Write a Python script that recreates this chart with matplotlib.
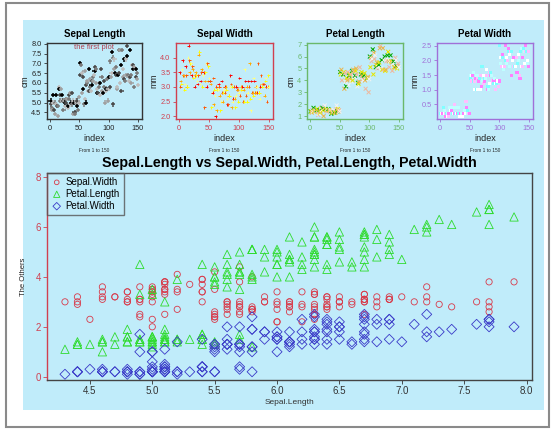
import matplotlib
matplotlib.use("Agg")
import matplotlib.pyplot as plt
from matplotlib.patches import Rectangle
import numpy as np

plt.rcParams['font.family'] = ['Liberation Sans', 'DejaVu Sans']

# iris data, one row per flower
sepal_length = [5.1, 4.9, 4.7, 4.6, 5.0, 5.4, 4.6, 5.0, 4.4, 4.9, 5.4, 4.8, 4.8, 4.3, 5.8, 5.7, 5.4, 5.1, 5.7, 5.1,
                5.4, 5.1, 4.6, 5.1, 4.8, 5.0, 5.0, 5.2, 5.2, 4.7, 4.8, 5.4, 5.2, 5.5, 4.9, 5.0, 5.5, 4.9, 4.4, 5.1,
                5.0, 4.5, 4.4, 5.0, 5.1, 4.8, 5.1, 4.6, 5.3, 5.0, 7.0, 6.4, 6.9, 5.5, 6.5, 5.7, 6.3, 4.9, 6.6, 5.2,
                5.0, 5.9, 6.0, 6.1, 5.6, 6.7, 5.6, 5.8, 6.2, 5.6, 5.9, 6.1, 6.3, 6.1, 6.4, 6.6, 6.8, 6.7, 6.0, 5.7,
                5.5, 5.5, 5.8, 6.0, 5.4, 6.0, 6.7, 6.3, 5.6, 5.5, 5.5, 6.1, 5.8, 5.0, 5.6, 5.7, 5.7, 6.2, 5.1, 5.7,
                6.3, 5.8, 7.1, 6.3, 6.5, 7.6, 4.9, 7.3, 6.7, 7.2, 6.5, 6.4, 6.8, 5.7, 5.8, 6.4, 6.5, 7.7, 7.7, 6.0,
                6.9, 5.6, 7.7, 6.3, 6.7, 7.2, 6.2, 6.1, 6.4, 7.2, 7.4, 7.9, 6.4, 6.3, 6.1, 7.7, 6.3, 6.4, 6.0, 6.9,
                6.7, 6.9, 5.8, 6.8, 6.7, 6.7, 6.3, 6.5, 6.2, 5.9]
sepal_width = [3.5, 3.0, 3.2, 3.1, 3.6, 3.9, 3.4, 3.4, 2.9, 3.1, 3.7, 3.4, 3.0, 3.0, 4.0, 4.4, 3.9, 3.5, 3.8, 3.8,
               3.4, 3.7, 3.6, 3.3, 3.4, 3.0, 3.4, 3.5, 3.4, 3.2, 3.1, 3.4, 4.1, 4.2, 3.1, 3.2, 3.5, 3.6, 3.0, 3.4,
               3.5, 2.3, 3.2, 3.5, 3.8, 3.0, 3.8, 3.2, 3.7, 3.3, 3.2, 3.2, 3.1, 2.3, 2.8, 2.8, 3.3, 2.4, 2.9, 2.7,
               2.0, 3.0, 2.2, 2.9, 2.9, 3.1, 3.0, 2.7, 2.2, 2.5, 3.2, 2.8, 2.5, 2.8, 2.9, 3.0, 2.8, 3.0, 2.9, 2.6,
               2.4, 2.4, 2.7, 2.7, 3.0, 3.4, 3.1, 2.3, 3.0, 2.5, 2.6, 3.0, 2.6, 2.3, 2.7, 3.0, 2.9, 2.9, 2.5, 2.8,
               3.3, 2.7, 3.0, 2.9, 3.0, 3.0, 2.5, 2.9, 2.5, 3.6, 3.2, 2.7, 3.0, 2.5, 2.8, 3.2, 3.0, 3.8, 2.6, 2.2,
               3.2, 2.8, 2.8, 2.7, 3.3, 3.2, 2.8, 3.0, 2.8, 3.0, 2.8, 3.8, 2.8, 2.8, 2.6, 3.0, 3.4, 3.1, 3.0, 3.1,
               3.1, 3.1, 2.7, 3.2, 3.3, 3.0, 2.5, 3.0, 3.4, 3.0]
petal_length = [1.4, 1.4, 1.3, 1.5, 1.4, 1.7, 1.4, 1.5, 1.4, 1.5, 1.5, 1.6, 1.4, 1.1, 1.2, 1.5, 1.3, 1.4, 1.7, 1.5,
                1.7, 1.5, 1.0, 1.7, 1.9, 1.6, 1.6, 1.5, 1.4, 1.6, 1.6, 1.5, 1.5, 1.4, 1.5, 1.2, 1.3, 1.4, 1.3, 1.5,
                1.3, 1.3, 1.3, 1.6, 1.9, 1.4, 1.6, 1.4, 1.5, 1.4, 4.7, 4.5, 4.9, 4.0, 4.6, 4.5, 4.7, 3.3, 4.6, 3.9,
                3.5, 4.2, 4.0, 4.7, 3.6, 4.4, 4.5, 4.1, 4.5, 3.9, 4.8, 4.0, 4.9, 4.7, 4.3, 4.4, 4.8, 5.0, 4.5, 3.5,
                3.8, 3.7, 3.9, 5.1, 4.5, 4.5, 4.7, 4.4, 4.1, 4.0, 4.4, 4.6, 4.0, 3.3, 4.2, 4.2, 4.2, 4.3, 3.0, 4.1,
                6.0, 5.1, 5.9, 5.6, 5.8, 6.6, 4.5, 6.3, 5.8, 6.1, 5.1, 5.3, 5.5, 5.0, 5.1, 5.3, 5.5, 6.7, 6.9, 5.0,
                5.7, 4.9, 6.7, 4.9, 5.7, 6.0, 4.8, 4.9, 5.6, 5.8, 6.1, 6.4, 5.6, 5.1, 5.6, 6.1, 5.6, 5.5, 4.8, 5.4,
                5.6, 5.1, 5.1, 5.9, 5.7, 5.2, 5.0, 5.2, 5.4, 5.1]
petal_width = [0.2, 0.2, 0.2, 0.2, 0.2, 0.4, 0.3, 0.2, 0.2, 0.1, 0.2, 0.2, 0.1, 0.1, 0.2, 0.4, 0.4, 0.3, 0.3, 0.3,
               0.2, 0.4, 0.2, 0.5, 0.2, 0.2, 0.4, 0.2, 0.2, 0.2, 0.2, 0.4, 0.1, 0.2, 0.2, 0.2, 0.2, 0.1, 0.2, 0.2,
               0.3, 0.3, 0.2, 0.6, 0.4, 0.3, 0.2, 0.2, 0.2, 0.2, 1.4, 1.5, 1.5, 1.3, 1.5, 1.3, 1.6, 1.0, 1.3, 1.4,
               1.0, 1.5, 1.0, 1.4, 1.3, 1.4, 1.5, 1.0, 1.5, 1.1, 1.8, 1.3, 1.5, 1.2, 1.3, 1.4, 1.4, 1.7, 1.5, 1.0,
               1.1, 1.0, 1.2, 1.6, 1.5, 1.6, 1.5, 1.3, 1.3, 1.3, 1.2, 1.4, 1.2, 1.0, 1.3, 1.2, 1.3, 1.3, 1.1, 1.3,
               2.5, 1.9, 2.1, 1.8, 2.2, 2.1, 1.7, 1.8, 1.8, 2.5, 2.0, 1.9, 2.1, 2.0, 2.4, 2.3, 1.8, 2.2, 2.3, 1.5,
               2.3, 2.0, 2.0, 1.8, 2.1, 1.8, 1.8, 1.8, 2.1, 1.6, 1.9, 2.0, 2.2, 1.5, 1.4, 2.3, 2.4, 1.8, 1.8, 2.1,
               2.4, 2.3, 1.9, 2.3, 2.5, 2.3, 1.9, 2.0, 2.3, 1.8]

small_titles = ["Sepal Length", "Sepal Width", "Petal Length", "Petal Width"]
small_units = ["cm", "mm", "cm", "mm"]
small_yticks = [[4.5, 5.0, 5.5, 6.0, 6.5, 7.0, 7.5, 8.0],
                [2.0, 2.5, 3.0, 3.5, 4.0],
                [1, 2, 3, 4, 5, 6, 7],
                [0.5, 1.0, 1.5, 2.0, 2.5]]
index_ticks = [0, 50, 100, 150]
big_xticks = [4.5, 5.0, 5.5, 6.0, 6.5, 7.0, 7.5, 8.0]
big_yticks = [0, 2, 4, 6, 8]

W, H = 553, 430
BLUE = "#C0ECFA"


def box(x0, y0, x1, y1):
    # pixel box (top-left origin) -> figure fraction rect
    return [x0 / W, 1 - y1 / H, (x1 - x0) / W, (y1 - y0) / H]


def rlim(vals, frac=0.04):
    lo, hi = min(vals), max(vals)
    d = (hi - lo) * frac
    return lo - d, hi + d


fig = plt.figure(figsize=(W / 100, H / 100), dpi=100)
fig.patch.set_facecolor("white")
fig.patches.append(Rectangle((6 / W, 1 - 427 / H), 543 / W, 424 / H, transform=fig.transFigure,
                             facecolor="white", edgecolor="#8a8a8a", lw=1.5, zorder=-3))
fig.patches.append(Rectangle((23 / W, 1 - 410 / H), 521 / W, 390 / H, transform=fig.transFigure,
                             facecolor=BLUE, edgecolor="none", zorder=-2))

idx = np.arange(1, 151)
series = [sepal_length, sepal_width, petal_length, petal_width]
frame_cols = ["#333333", "#D04050", "#6AB86A", "#A070D8"]
palettes = [["#000000", "#4a4a4a", "#7a7a7a", "#a0a0a0", "#bdbdbd"],
            ["#FF0000", "#FF5500", "#FFAA00", "#FFFF00", "#FFFF80"],
            ["#00A600", "#E6E600", "#EAB64E", "#EEB99F", "#F2F2F2"],
            ["#80FFFF", "#BFFFFF", "#FFFFFF", "#FFBFFF", "#FF80FF"]]
markers = [dict(marker="+", s=9, linewidths=1.1),
           dict(marker="+", s=4, linewidths=0.7),
           dict(marker="x", s=8, linewidths=0.7),
           dict(marker="s", s=5, linewidths=0)]
xs = [(47, 142), (176, 273), (307, 403), (437, 533)]

for k in range(4):
    ax = fig.add_axes(box(xs[k][0], 43, xs[k][1], 119))
    ax.patch.set_alpha(0)
    cols = [palettes[k][i % 5] for i in range(150)]
    ax.scatter(idx, series[k], c=cols, **markers[k])
    ax.set_xlim(-5, 157)
    ax.set_ylim(*rlim(series[k]))
    ax.set_xticks(index_ticks)
    ax.set_yticks(small_yticks[k])
    if k != 2:
        ax.set_yticklabels(["%.1f" % v for v in small_yticks[k]])
    for sp in ax.spines.values():
        sp.set_color(frame_cols[k])
        sp.set_linewidth(1.0)
    lab_col = "#222222" if k == 0 else frame_cols[k]
    ax.tick_params(length=2.5, width=0.6, pad=1.5, labelsize=5.3, colors=lab_col)
    ax.tick_params(axis="both", color=frame_cols[k])
    ax.set_title(small_titles[k], fontsize=7, fontweight="bold", pad=4)
    ax.set_ylabel(small_units[k], fontsize=6.2, labelpad=1, color="#222222")
    ax.set_xlabel("index", fontsize=6.5, labelpad=2, color="#222222")
    ax.text(0.5, -0.385, "From 1 to 150", transform=ax.transAxes, ha="center", va="top",
            fontsize=3.4, color="#222222")
    if k == 0:
        ax.text(75, 7.8, "the first plot", ha="center", va="center", fontsize=5.5, color="#B0404F")

# big plot
ax = fig.add_axes(box(47, 173, 532, 380))
ax.patch.set_alpha(0)
ax.scatter(sepal_length, sepal_width, s=20, facecolors="none", edgecolors="#D83A4A",
           linewidths=0.6, marker="o", label="Sepal.Width")
ax.scatter(sepal_length, petal_length, s=36, facecolors="none", edgecolors="#2EDB2E",
           linewidths=0.6, marker="^", label="Petal.Length")
ax.scatter(sepal_length, petal_width, s=26, facecolors="none", edgecolors="#3A3AC8",
           linewidths=0.6, marker="D", label="Petal.Width")
ax.set_xlim(*rlim(sepal_length))
ax.set_ylim(-0.13, 8.16)
ax.set_xticks(big_xticks)
ax.set_xticklabels(["%.1f" % v for v in big_xticks])
ax.set_yticks(big_yticks)
for name, sp in ax.spines.items():
    sp.set_color("#444444")
    sp.set_linewidth(1.0)
ax.spines["left"].set_color("#D04050")
ax.tick_params(axis="x", length=3, width=0.6, pad=1.5, labelsize=7, colors="#333333")
ax.tick_params(axis="y", length=3, width=0.6, pad=1.5, labelsize=7, colors="#D04050")
ax.set_title("Sepal.Length vs Sepal.Width, Petal.Length, Petal.Width",
             fontsize=10.3, fontweight="bold", pad=4)
ax.set_xlabel("Sepal.Length", fontsize=6, labelpad=2, color="#333333")
ax.set_ylabel("The Others", fontsize=5.5, labelpad=6, color="#222222")
leg = ax.legend(loc="upper left", borderaxespad=0, fontsize=7, frameon=True, fancybox=False,
                handletextpad=0.3, borderpad=0.4, labelspacing=0.2, markerscale=0.75,
                handlelength=1.2, edgecolor="#555555", facecolor="none")
leg.get_frame().set_linewidth(1.0)

fig.savefig("out.png", dpi=100)
